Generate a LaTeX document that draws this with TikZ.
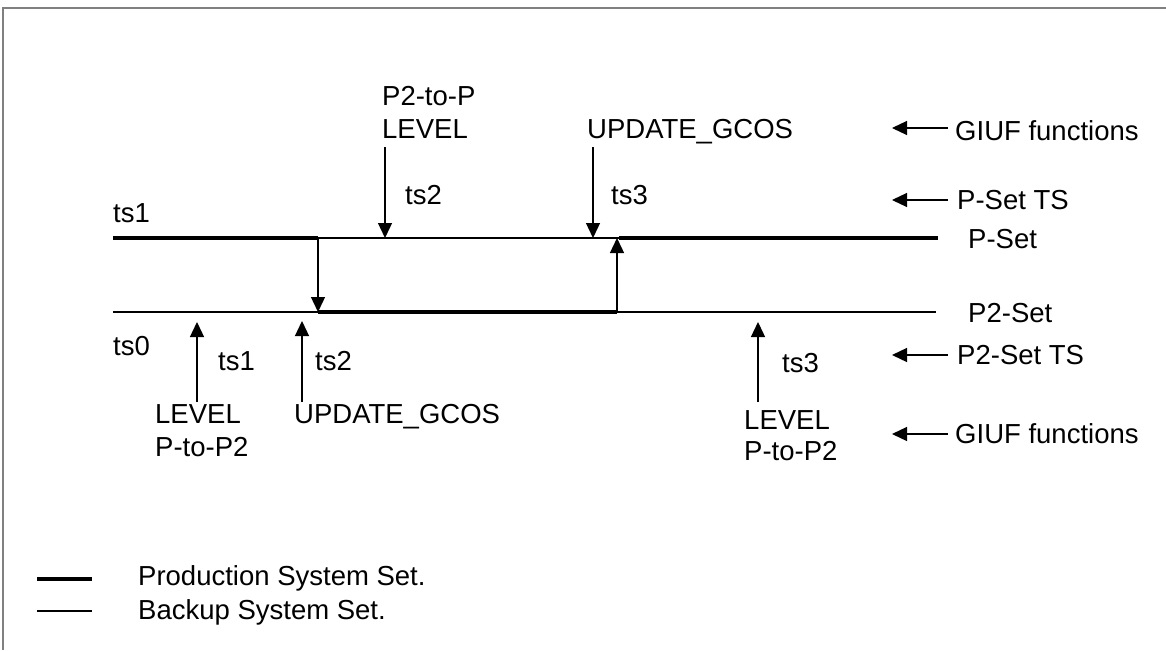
\documentclass[tikz,border=0pt]{standalone}
\usepackage{fontspec}
\setmainfont{Liberation Sans}
\usetikzlibrary{arrows.meta}
\begin{document}
\begin{tikzpicture}[x=1pt,y=-1pt,
  lbl/.style={anchor=base west,inner sep=0pt,font=\fontsize{27.5}{31}\selectfont},
  prod/.style={line width=4pt},
  backup/.style={line width=1.3pt},
  arr/.style={line width=1.3pt,-{Triangle[length=15pt,width=14pt]}},
  frameline/.style={line width=2pt,draw=black!50}]
\useasboundingbox (0,0) rectangle (1166,650);
\draw[frameline] (3,650) -- (3,8) -- (1166,8);

% timeline coordinates
\coordinate (pA) at (113,238);
\coordinate (pB) at (318,238);
\coordinate (pC) at (619,238);
\coordinate (pCt) at (617,238);
\coordinate (pD) at (938,238);
\coordinate (qA) at (113,312);
\coordinate (qB) at (318,312);
\coordinate (qC) at (617,312);
\coordinate (qD) at (936,312);

\draw[prod] (pA) -- (pB);
\draw[backup] (pB) -- (pC);
\draw[prod] (pC) -- (pD);
\draw[backup] (qA) -- (qB);
\draw[prod] (qB) -- (qC);
\draw[backup] (qC) -- (qD);
\draw[arr] (pB) -- (qB);
\draw[arr] (qC) -- (pCt);

% down arrows from top labels
\coordinate (d2s) at (385,147); \coordinate (d2e) at (385,238);
\coordinate (d3s) at (593,147); \coordinate (d3e) at (593,238);
\draw[arr] (d2s) -- (d2e);
\draw[arr] (d3s) -- (d3e);

% up arrows from bottom labels
\coordinate (u1s) at (197,402); \coordinate (u1e) at (197,322);
\coordinate (u2s) at (302,402); \coordinate (u2e) at (302,321);
\coordinate (u3s) at (758,402); \coordinate (u3e) at (758,322);
\draw[arr] (u1s) -- (u1e);
\draw[arr] (u2s) -- (u2e);
\draw[arr] (u3s) -- (u3e);

% side arrows
\coordinate (s1s) at (948,128); \coordinate (s1e) at (892,128);
\coordinate (s2s) at (948,200); \coordinate (s2e) at (892,200);
\coordinate (s3s) at (948,355); \coordinate (s3e) at (892,355);
\coordinate (s4s) at (948,434); \coordinate (s4e) at (892,434);
\draw[arr] (s1s) -- (s1e);
\draw[arr] (s2s) -- (s2e);
\draw[arr] (s3s) -- (s3e);
\draw[arr] (s4s) -- (s4e);

% legend
\coordinate (l1a) at (37,579); \coordinate (l1b) at (92,579);
\coordinate (l2a) at (37,611); \coordinate (l2b) at (92,611);
\draw[prod] (l1a) -- (l1b);
\draw[backup] (l2a) -- (l2b);

% labels
\node[lbl] (tsA) at (113,222) {ts1};
\node[lbl] (tsB) at (113,355) {ts0};
\node[lbl] (tsC) at (218,370) {ts1};
\node[lbl] (tsD) at (315,370) {ts2};
\node[lbl] (tsE) at (405,204) {ts2};
\node[lbl] (tsF) at (611,204) {ts3};
\node[lbl] (tsG) at (782,372) {ts3};
\node[lbl] (f1a) at (382,106) {P2-to-P};
\node[lbl] (f1b) at (382,138) {LEVEL};
\node[lbl] (f2) at (587,138) {UPDATE\_GCOS};
\node[lbl] (f3a) at (155,423) {LEVEL};
\node[lbl] (f3b) at (155,456) {P-to-P2};
\node[lbl] (f4) at (294,423) {UPDATE\_GCOS};
\node[lbl] (f5a) at (744,429) {LEVEL};
\node[lbl] (f5b) at (744,460) {P-to-P2};
\node[lbl] (r1) at (955,140) {GIUF functions};
\node[lbl] (r2) at (957,209) {P-Set TS};
\node[lbl] (r3) at (968,248) {P-Set};
\node[lbl] (r4) at (968,322) {P2-Set};
\node[lbl] (r5) at (957,364) {P2-Set TS};
\node[lbl] (r6) at (955,443) {GIUF functions};
\node[lbl] (lg1) at (138,585) {Production System Set.};
\node[lbl] (lg2) at (138,619) {Backup System Set.};
\end{tikzpicture}
\end{document}
